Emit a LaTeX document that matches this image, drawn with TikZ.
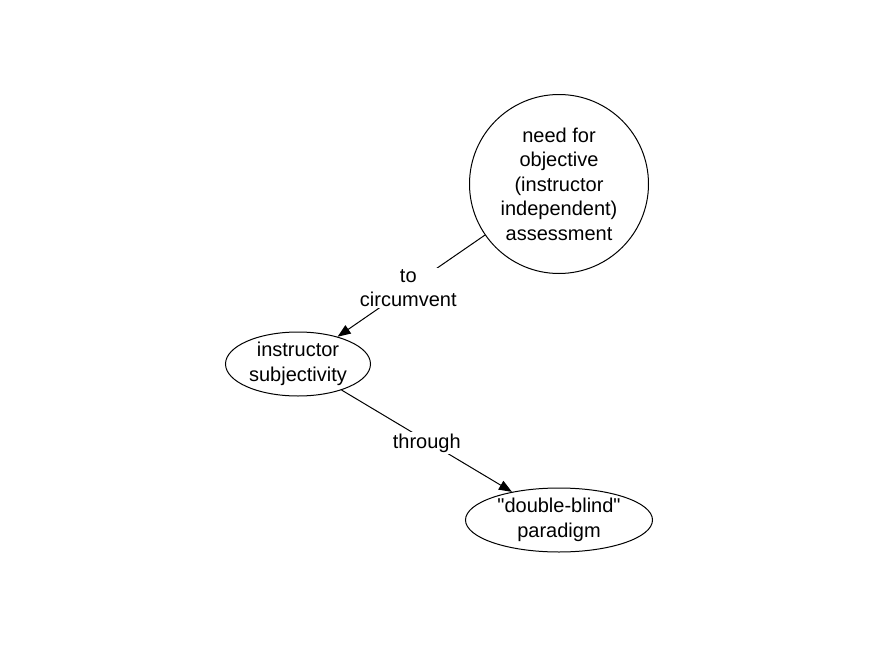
\documentclass[tikz,border=0pt]{standalone}
\usepackage{fontspec}
\setmainfont{Liberation Sans}
\usetikzlibrary{shapes.geometric,arrows.meta}
\begin{document}
\begin{tikzpicture}[x=1pt,y=-1pt,
  every node/.style={font=\fontsize{20}{24.5}\selectfont, align=center},
  conc/.style={draw, line width=1pt, inner sep=0pt},
  lbl/.style={fill=white, inner sep=1.5pt},
  link/.style={line width=1pt, -{Triangle[length=13pt,width=10pt]}}]
\useasboundingbox (0,0) rectangle (879,656);
\node[conc, circle, minimum size=179pt] (need) at (559,184) {need for\\objective\\(instructor\\independent)\\assessment};
\node[conc, ellipse, minimum width=145pt, minimum height=64pt] (subj) at (298,364) {instructor\\subjectivity};
\node[conc, ellipse, minimum width=187pt, minimum height=64pt] (dbl) at (559,520) {\raisebox{-3pt}{\textquotedbl double-blind\textquotedbl}\\\raisebox{-3pt}{paradigm}};
\draw[link] (need) -- node[lbl, pos=0.52] (l1) {to\\circumvent} (subj);
\draw[link] (subj) -- node[lbl, pos=0.5, yshift=-2pt] (l2) {through} (dbl);
\end{tikzpicture}
\end{document}
